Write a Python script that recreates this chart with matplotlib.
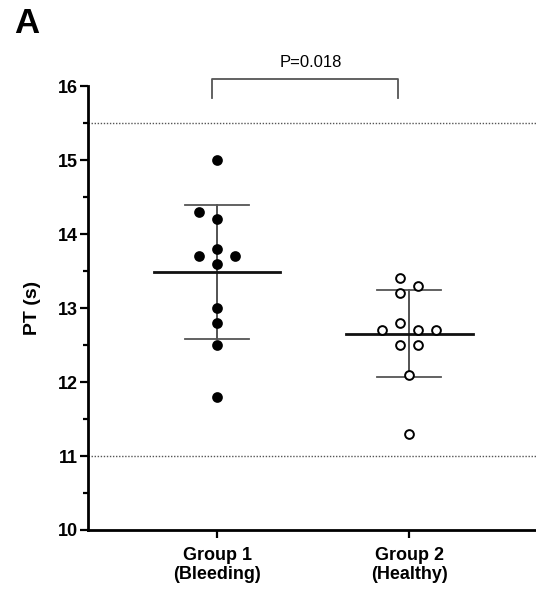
import numpy as np
from matplotlib import pyplot as plt
from matplotlib.ticker import MultipleLocator

plt.rcParams['font.family'] = ['Liberation Sans', 'DejaVu Sans']

# values (PT in seconds)
groups = ["Group 1\n(Bleeding)", "Group 2\n(Healthy)"]
bleeding = [15.0, 14.3, 14.2, 13.8, 13.7, 13.7, 13.6, 13.0, 12.8, 12.5, 11.8]
healthy = [13.4, 13.3, 13.2, 12.8, 12.7, 12.7, 12.7, 12.5, 12.5, 12.1, 11.3]
ref_range = [11.0, 15.5]
p_text = "P=0.018"

# horizontal scatter offsets for overlapping dots
bleeding_jit = [0, -0.094, 0, 0, -0.094, 0.094, 0, 0, 0, 0, 0]
healthy_jit = [-0.047, 0.047, -0.047, -0.047, -0.14, 0.047, 0.14, -0.047, 0.047, 0, 0]

fig = plt.figure(figsize=(5.36, 5.90), dpi=100)
ax = fig.add_axes([0.164, 0.1017, 0.836, 0.7525])

for xpos, vals, jit, face in [(1, bleeding, bleeding_jit, 'black'),
                             (2, healthy, healthy_jit, 'white')]:
    vals = np.array(vals)
    m = vals.mean()
    sd = vals.std(ddof=1)
    # sd whisker + caps
    ax.plot([xpos, xpos], [m - sd, m + sd], color='#444444', lw=1.3, zorder=2)
    ax.plot([xpos - 0.167, xpos + 0.167], [m + sd, m + sd], color='#555555', lw=1.3, zorder=2)
    ax.plot([xpos - 0.167, xpos + 0.167], [m - sd, m - sd], color='#555555', lw=1.3, zorder=2)
    # mean line
    ax.plot([xpos - 0.33, xpos + 0.33], [m, m], color='#111111', lw=2.0, zorder=2)
    ax.plot(xpos + np.array(jit), vals, 'o', ms=6.3, mfc=face, mec='black',
            mew=1.4, zorder=3, clip_on=False)

# reference range lines
for r in ref_range:
    ax.axhline(r, color='#555555', lw=1.0, ls=(0, (1, 1.2)), zorder=1)

# significance bracket
bx = [0.974, 0.974, 1.943, 1.943]
by = [15.84, 16.09, 16.09, 15.84]
ax.plot(bx, by, color='#555555', lw=1.3, clip_on=False)
ax.text(1.49, 16.32, p_text, ha='center', va='center', fontsize=12)

ax.set_xlim(0.328, 2.66)
ax.set_ylim(10, 16)
ax.set_xticks([1, 2])
ax.set_xticklabels(groups, fontsize=13, fontweight='bold', linespacing=1.2)
ax.yaxis.set_major_locator(MultipleLocator(1))
ax.yaxis.set_minor_locator(MultipleLocator(0.5))
for lab in ax.get_yticklabels():
    lab.set_fontweight('bold')
    lab.set_fontsize(13)
ax.tick_params(axis='both', which='major', length=6, width=1.6, pad=1)
ax.tick_params(axis='y', which='minor', length=3.5, width=1.6)
ax.tick_params(axis='x', which='major', pad=6)

ax.spines['top'].set_visible(False)
ax.spines['right'].set_visible(False)
ax.spines['left'].set_linewidth(2)
ax.spines['bottom'].set_linewidth(2)

ax.set_ylabel("PT (s)", fontsize=14, fontweight='bold', labelpad=12)
fig.text(0.026, 0.988, "A", fontsize=25, fontweight='bold', va='top', ha='left')

plt.savefig('out.png', dpi=100)
